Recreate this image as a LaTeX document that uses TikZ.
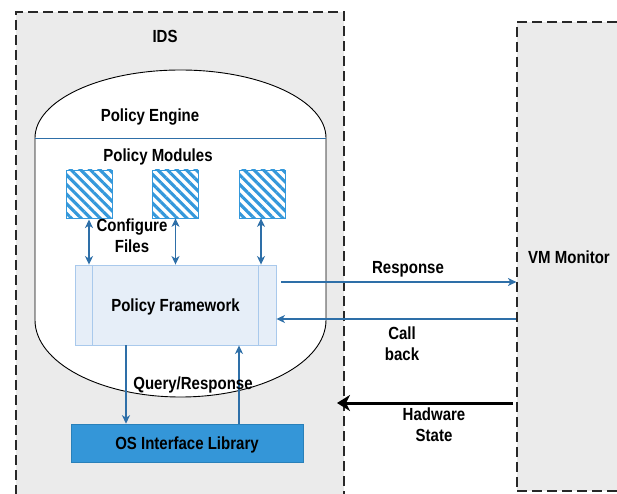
\documentclass[tikz,border=0pt]{standalone}
\usepackage{fontspec}
\usepackage{graphicx}
\setmainfont{Liberation Sans}
\usetikzlibrary{arrows.meta,patterns.meta}
\definecolor{boxgray}{RGB}{235,235,235}
\definecolor{dashgray}{RGB}{40,40,40}
\definecolor{arrowblue}{RGB}{46,111,168}
\definecolor{hatchblue}{RGB}{52,152,219}
\definecolor{fwfill}{RGB}{230,238,248}
\definecolor{fwdraw}{RGB}{169,201,236}
\definecolor{osfill}{RGB}{52,150,216}
\definecolor{osdraw}{RGB}{41,128,185}
\newcommand\tx[1]{\scalebox{1}[1.17]{\begin{tabular}{@{}c@{}}#1\end{tabular}}}
\begin{document}
\begin{tikzpicture}[x=1pt,y=1pt,
  lbl/.style={font=\fontsize{15}{17.5}\selectfont\bfseries, align=center, inner sep=0pt, yshift=-2pt},
  region/.style={draw=dashgray, line width=1.2pt, dash pattern=on 10pt off 5pt, fill=boxgray, inner sep=0pt},
  hatchbox/.style={draw=hatchblue, line width=0.8pt, pattern={Lines[angle=-45,distance=6.8pt,line width=3.1pt]}, pattern color=hatchblue, minimum width=46, minimum height=48, inner sep=0pt},
  tipb/.tip={Stealth[length=8.5pt,width=8pt,inset=2.5pt]},
  barrow/.style={draw=arrowblue, line width=1.1pt, -tipb},
  dbarrow/.style={draw=arrowblue, line width=1.1pt, tipb-tipb},
  fwbox/.style={draw=fwdraw, line width=0.9pt, fill=fwfill, minimum width=201, minimum height=80, inner sep=0pt},
  osbox/.style={draw=osdraw, line width=0.6pt, fill=osfill, minimum width=232, minimum height=38, inner sep=0pt}
]
\useasboundingbox (0,0) rectangle (617,493);
\clip (0,0) rectangle (617,493);

% regions
\node[region, minimum width=328, minimum height=491] (ids) at (180,235.5) {};
\node[region, minimum width=123, minimum height=469] (vm) at (578.5,236.5) {};
\node[lbl] (idslbl) at (165,457) {\tx{IDS}};
\node[lbl] (vmlbl) at (569,236) {\tx{VM Monitor}};

% policy engine shape
\draw[fill=white, line width=0.9pt]
  (35,355) arc[start angle=180,end angle=0,x radius=145.5,y radius=68]
  -- (326,173) arc[start angle=0,end angle=-180,x radius=145.5,y radius=77] -- cycle;
\draw[arrowblue, line width=0.9pt] (35,355) -- (326,355);
\node[lbl] (pe) at (150,378) {\tx{Policy Engine}};
\node[lbl] (pm) at (158,338) {\tx{Policy Modules}};

% modules
\node[hatchbox] (sq1) at (89,299) {};
\node[hatchbox] (sq2) at (175.5,299) {};
\node[hatchbox] (sq3) at (262.5,299) {};

% framework
\node[fwbox] (fwk) at (175.5,188) {};
\draw[fwdraw, line width=0.9pt] ([xshift=18pt]fwk.north west) -- ([xshift=18pt]fwk.south west);
\draw[fwdraw, line width=0.9pt] ([xshift=-18pt]fwk.north east) -- ([xshift=-18pt]fwk.south east);
\node[lbl] (fwlbl) at (175.5,188) {\tx{Policy Framework}};

\node[lbl] (cf) at (132,257) {\tx{Configure\\Files}};

\draw[dbarrow] (sq1.south) -- (sq1.south |- fwk.north);
\draw[dbarrow] (sq2.south) -- (sq2.south |- fwk.north);
\draw[dbarrow] ([xshift=-1.5pt]sq3.south) -- ([xshift=-1.5pt]sq3.south |- fwk.north);

% OS interface
\node[osbox] (os) at (187,50) {};
\node[lbl] (oslbl) at (187,50) {\tx{OS Interface Library}};
\coordinate (qd) at (126,0);
\coordinate (qu) at (239,0);
\draw[barrow] (qd |- fwk.south) -- (qd |- os.north);
\draw[barrow] (qu |- os.north) -- (qu |- fwk.south);
\node[lbl] (qr) at (193,110) {\tx{Query/Response}};

% VM connections
\coordinate (rs) at (281,211);
\draw[barrow] (rs) -- (vm.west |- rs);
\node[lbl] (rsl) at (408,226) {\tx{Response}};
\coordinate (cb) at (0,174);
\draw[barrow] (vm.west |- cb) -- (fwk.east |- cb);
\node[lbl] (cbl) at (402,149) {\tx{Call\\back}};

\coordinate (hs) at (513,90);
\coordinate (he) at (337,90);
\draw[black, line width=3pt, -{Stealth[length=13pt,width=16pt,inset=4pt]}] (hs) -- (he);
\node[lbl] (hsl) at (434,68) {\tx{Hadware\\State}};
\end{tikzpicture}
\end{document}
